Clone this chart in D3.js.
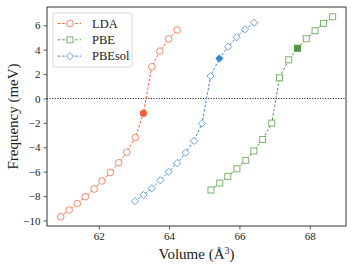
<!DOCTYPE html>
<html>
<head>
<meta charset="utf-8">
<script src="https://cdn.jsdelivr.net/npm/d3@7"></script>
<style>
  body { margin: 0; background: #fff; }
  text { font-family: "Liberation Serif", "DejaVu Serif", serif; fill: #222; }
</style>
</head>
<body>
<svg id="chart" width="354" height="266"></svg>
<script>
// data
var ldaVol  = [60.92, 61.16, 61.39, 61.62, 61.87, 62.09, 62.33, 62.57, 62.80, 63.04, 63.27, 63.51, 63.74, 63.99, 64.23];
var ldaFreq = [-9.69, -9.14, -8.61, -8.05, -7.42, -6.76, -6.07, -5.26, -4.40, -3.20, -1.21, 2.61, 3.89, 4.88, 5.61];
var pbeVol  = [65.19, 65.44, 65.67, 65.93, 66.18, 66.41, 66.66, 66.92, 67.14, 67.40, 67.65, 67.90, 68.15, 68.39, 68.65];
var pbeFreq = [-7.50, -6.93, -6.38, -5.76, -5.07, -4.30, -3.36, -2.02, 1.70, 3.17, 4.12, 4.90, 5.56, 6.16, 6.70];
var solVol  = [63.03, 63.27, 63.51, 63.75, 63.99, 64.23, 64.47, 64.71, 64.94, 65.18, 65.43, 65.68, 65.92, 66.16, 66.42];
var solFreq = [-8.42, -7.91, -7.36, -6.70, -6.01, -5.29, -4.44, -3.48, -2.03, 1.84, 3.28, 4.25, 5.02, 5.67, 6.21];
var seriesNames = ['LDA', 'PBE', 'PBEsol'];
var filledIndex = 10; // the highlighted point of each series
var xTicks = [62, 64, 66, 68];
var yTicks = [-10, -8, -6, -4, -2, 0, 2, 4, 6];

var margin = {top: 7, right: 8, bottom: 40, left: 47},
    width = 354, height = 266,
    chartWidth = width - margin.left - margin.right,
    chartHeight = height - margin.top - margin.bottom;

var series = [
  {name: seriesNames[0], vol: ldaVol, freq: ldaFreq, color: '#f0603a', shape: 'circle'},
  {name: seriesNames[1], vol: pbeVol, freq: pbeFreq, color: '#4f9a3e', shape: 'square'},
  {name: seriesNames[2], vol: solVol, freq: solFreq, color: '#3a86cf', shape: 'diamond'}
];

var x = d3.scaleLinear().domain([60.53, 69.03]).range([0, chartWidth]);
var y = d3.scaleLinear().domain([-10.45, 7.5]).range([chartHeight, 0]);

var svg = d3.select('#chart');
var chartG = svg.append('g')
  .attr('transform', 'translate(' + margin.left + ',' + margin.top + ')');

function fmt(d) { return d < 0 ? '\u2212' + Math.abs(d) : '' + d; }

// axes
var xAxis = d3.axisBottom(x).tickValues(xTicks).tickSize(3.5).tickPadding(3);
var yAxis = d3.axisLeft(y).tickValues(yTicks).tickFormat(fmt).tickSize(3.5).tickPadding(3);

var gx = chartG.append('g')
  .attr('transform', 'translate(0,' + chartHeight + ')')
  .call(xAxis);
var gy = chartG.append('g').call(yAxis);
[gx, gy].forEach(function(g) {
  g.select('.domain').remove();
  g.selectAll('.tick line').attr('stroke', '#333').attr('stroke-width', 0.8);
  g.selectAll('.tick text').style('font-family', '"Liberation Serif", serif').style('font-size', '11px').attr('fill', '#222');
});

// zero line
chartG.append('line')
  .attr('x1', 0).attr('x2', chartWidth)
  .attr('y1', y(0)).attr('y2', y(0))
  .attr('stroke', '#111').attr('stroke-width', 1)
  .attr('stroke-dasharray', '1,1.6');

function drawMarker(g, shape, cx, cy, color, filled) {
  var fill = filled ? color : '#fff';
  var op = filled ? 1 : 0.75;
  if (shape === 'circle') {
    g.append('circle').attr('cx', cx).attr('cy', cy).attr('r', 3.3)
      .attr('fill', fill).attr('stroke', color).attr('stroke-width', 1).attr('stroke-opacity', op);
  } else if (shape === 'square') {
    g.append('rect').attr('x', cx - 3).attr('y', cy - 3).attr('width', 6).attr('height', 6)
      .attr('fill', fill).attr('stroke', color).attr('stroke-width', 1).attr('stroke-opacity', op);
  } else {
    var r = 3.6;
    g.append('path')
      .attr('d', 'M' + cx + ',' + (cy - r) + 'L' + (cx + r) + ',' + cy + 'L' + cx + ',' + (cy + r) + 'L' + (cx - r) + ',' + cy + 'Z')
      .attr('fill', fill).attr('stroke', color).attr('stroke-width', 1).attr('stroke-opacity', op);
  }
}

// series lines and markers
series.forEach(function(s) {
  var pts = s.vol.map(function(v, i) { return [v, s.freq[i]]; });
  var line = d3.line().x(function(d) { return x(d[0]); }).y(function(d) { return y(d[1]); });
  chartG.append('path')
    .datum(pts)
    .attr('d', line)
    .attr('fill', 'none')
    .attr('stroke', s.color)
    .attr('stroke-width', 1)
    .attr('stroke-dasharray', '2.5,1.8');
  var mg = chartG.append('g');
  pts.forEach(function(p, i) {
    drawMarker(mg, s.shape, x(p[0]), y(p[1]), s.color, i === filledIndex);
  });
});

// frame
chartG.append('rect')
  .attr('width', chartWidth).attr('height', chartHeight)
  .attr('fill', 'none').attr('stroke', '#333').attr('stroke-width', 1);

// legend
var legend = chartG.append('g').attr('transform', 'translate(6,6)');
legend.append('rect')
  .attr('width', 79).attr('height', 54).attr('rx', 2.5)
  .attr('fill', '#fff').attr('fill-opacity', 0.85)
  .attr('stroke', '#ccc').attr('stroke-width', 0.8);
series.forEach(function(s, i) {
  var ly = 10.5 + i * 16.3;
  legend.append('line')
    .attr('x1', 5).attr('x2', 28).attr('y1', ly).attr('y2', ly)
    .attr('stroke', s.color).attr('stroke-width', 1).attr('stroke-dasharray', '2.5,1.8');
  drawMarker(legend, s.shape, 17, ly, s.color, false);
  legend.append('text')
    .attr('x', 39).attr('y', ly + 4)
    .style('font-size', '12.5px')
    .text(s.name);
});

// axis titles
svg.append('text')
  .attr('x', margin.left + chartWidth / 2).attr('y', 259)
  .attr('text-anchor', 'middle')
  .style('font-size', '15px')
  .html('Volume (\u00c5<tspan dy="-5" font-size="10px">3</tspan><tspan dy="5">)</tspan>');

svg.append('text')
  .attr('transform', 'translate(18,' + (margin.top + chartHeight / 2) + ') rotate(-90)')
  .attr('text-anchor', 'middle')
  .style('font-size', '15px')
  .text('Frequency (meV)');
</script>
</body>
</html>
